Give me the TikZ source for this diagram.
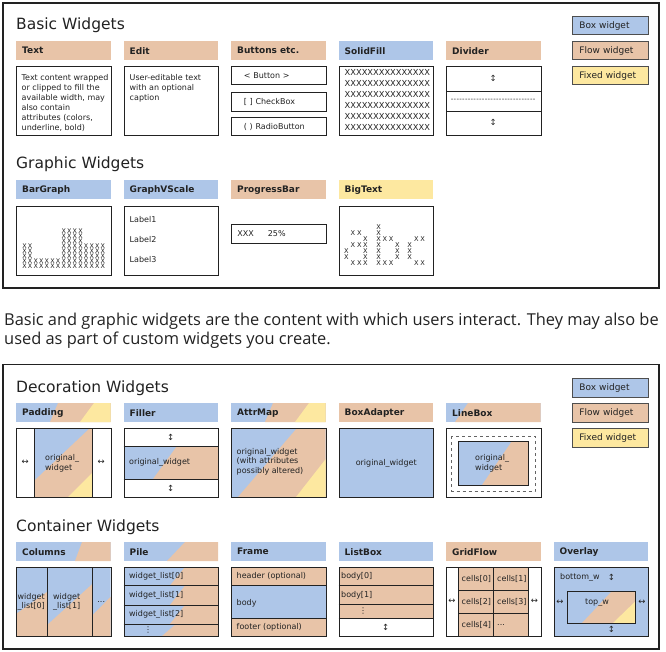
\documentclass[tikz,border=0pt]{standalone}
\usepackage{fontspec}
\setmainfont{DejaVu Sans}
\newfontfamily\prosefont{Open Sans}
\usetikzlibrary{positioning}

\definecolor{boxblue}{HTML}{AEC6E8}
\definecolor{flowtan}{HTML}{E8C4A8}
\definecolor{fixyellow}{HTML}{FDE8A0}
\definecolor{ink}{HTML}{222222}

% background split in diagonal bands: x0,y0,x1,y1, then x of each band edge at bottom and top
\newcommand\tribg[8]{%
  \begin{scope}
    \clip (#1,#2) rectangle (#3,#4);
    \fill[boxblue] (#1,#2) rectangle (#3,#4);
    \fill[flowtan] (#5,#4) -- (#6,#2) -- (#3+300,#2) -- (#3+300,#4) -- cycle;
    \fill[fixyellow] (#7,#4) -- (#8,#2) -- (#3+300,#2) -- (#3+300,#4) -- cycle;
  \end{scope}}
\newcommand\duobg[6]{%
  \begin{scope}
    \clip (#1,#2) rectangle (#3,#4);
    \fill[boxblue] (#1,#2) rectangle (#3,#4);
    \fill[flowtan] (#5,#4) -- (#6,#2) -- (#3+300,#2) -- (#3+300,#4) -- cycle;
  \end{scope}}

\begin{document}
\begin{tikzpicture}[x=1pt,y=-1pt,
    every node/.style={text=ink},
    panel/.style={draw=ink,line width=1.2pt},
    title/.style={anchor=base west,inner sep=0pt,font=\fontsize{15.5}{18}\selectfont},
    hdr/.style={anchor=north west,minimum width=94.5pt,minimum height=19pt,inner xsep=6pt,
      inner ysep=0pt,text width=82.5pt,align=left,font=\bfseries\fontsize{9}{10}\selectfont},
    wbox/.style={draw=ink,line width=0.9pt,anchor=north west,minimum width=94.5pt,
      minimum height=69pt,inner sep=0pt},
    btn/.style={draw=ink,line width=0.9pt,anchor=north west,minimum width=94.5pt,
      minimum height=18.5pt,inner xsep=12.5pt,inner ysep=0pt,text width=69.5pt,align=left,
      font=\fontsize{8}{10}\selectfont},
    leg/.style={draw=ink!80,line width=0.9pt,anchor=north west,minimum width=76pt,
      minimum height=18.5pt,inner xsep=7pt,inner ysep=0pt,text width=62pt,align=left,
      font=\fontsize{9}{10}\selectfont},
    small/.style={inner sep=0pt,font=\fontsize{8}{9.6}\selectfont,align=left},
    xchar/.style={inner sep=0pt,font=\fontsize{6.6}{7}\selectfont},
    xcol/.style={inner sep=0pt,anchor=south,align=center,
      font={\fontsize{6.4}{4.9}\selectfont\lineskiplimit=-10pt}},
    arr/.style={inner sep=0pt,font=\fontsize{8.5}{9}\selectfont},
    prose/.style={anchor=base west,inner sep=0pt,font=\prosefont\fontsize{16.4}{19}\selectfont},
    sep/.style={draw=ink,line width=0.9pt}]
\useasboundingbox (0,0) rectangle (666,652);

%%% basic and graphic widgets
\draw[panel] (3,3) rectangle (659,288);
\node[title] (tBasic) at (16,30) {Basic Widgets};
\node[title] (tGraphic) at (16,169) {Graphic Widgets};

\node[leg,fill=boxblue] (lBox) at (572,16) {Box widget};
\node[leg,fill=flowtan] (lFlow) at (572,41) {Flow widget};
\node[leg,fill=fixyellow] (lFixed) at (572,66) {Fixed widget};

\node[hdr,fill=flowtan] (hText) at (16,41) {Text};
\node[hdr,fill=flowtan] (hEdit) at (123.5,41) {Edit};
\node[hdr,fill=flowtan] (hButtons) at (231,41) {Buttons etc.};
\node[hdr,fill=boxblue] (hSolid) at (338.5,41) {SolidFill};
\node[hdr,fill=flowtan] (hDivider) at (446,41) {Divider};

\node[wbox] (bText) at (16,66) {};
\node[small,anchor=north west,font=\fontsize{8}{10}\selectfont] (textBody) at (21.5,74)
  {Text content wrapped\\or clipped to fill the\\available width, may\\also contain\\attributes (colors,\\underline, bold)};
\node[wbox] (bEdit) at (123.5,66) {};
\node[small,anchor=north west,font=\fontsize{8}{10}\selectfont] (editBody) at (129.5,74)
  {User-editable text\\with an optional\\caption};

\node[btn] (bButton) at (231,66) {< Button >};
\node[btn,minimum height=19pt] (bCheck) at (231,92) {[ ] CheckBox};
\node[btn] (bRadio) at (231,117) {( ) RadioButton};

\node[wbox] (bSolid) at (338.5,66) {};
\foreach \k in {0,...,5}
  \node[inner sep=0pt,anchor=west,font=\fontsize{8.3}{9}\selectfont] (fill\k) at (344.5,72+11*\k)
    {XXXXXXXXXXXXXXX};

\node[wbox] (bDivider) at (446,66) {};
\draw[sep] (446,91) -- (540.5,91) (446,111) -- (540.5,111);
\node[arr] (divUp) at (493.25,78.5) {↕};
\node[arr] (divDown) at (493.25,122.5) {↕};
\node[inner sep=0pt,font=\fontsize{7}{8}\selectfont] (divLine) at (493.25,100.5)
  {\foreach \k in {1,...,30}{-\kern0.3pt}};

\node[hdr,fill=boxblue] (hBar) at (16,180) {BarGraph};
\node[hdr,fill=boxblue] (hScale) at (123.5,180) {GraphVScale};
\node[hdr,fill=flowtan] (hProgress) at (231,180) {ProgressBar};
\node[hdr,fill=fixyellow] (hBig) at (338.5,180) {BigText};

\node[wbox] (bBar) at (16,206) {};
\foreach \col [count=\c from 0] in {X\\X\\X\\X\\X, X\\X\\X\\X\\X, X\\X, X\\X, X\\X, X\\X, X\\X,
    X\\X\\X\\X\\X\\X\\X\\X, X\\X\\X\\X\\X\\X\\X\\X, X\\X\\X\\X\\X\\X\\X\\X, X\\X\\X\\X\\X\\X\\X\\X,
    X\\X\\X\\X\\X, X\\X\\X\\X\\X, X\\X\\X\\X\\X, X\\X\\X\\X\\X}
  \node[xcol] (barcol\c) at (24.5+5.6*\c,268.3) {\col};

\node[wbox] (bScale) at (123.5,206) {};
\node[small,anchor=west] (lab1) at (129.5,219.5) {Label1};
\node[small,anchor=west] (lab2) at (129.5,240) {Label2};
\node[small,anchor=west] (lab3) at (129.5,260) {Label3};

\node[btn,minimum height=19pt,inner xsep=6pt,text width=82.5pt] (bProgress) at (231,224)
  {XXX\hspace{14pt}25\%};

\node[wbox] (bBig) at (338.5,206) {};
\foreach \px/\py [count=\n] in {
    353/233,359.5/233, 353/245,359.5/245, 346.3/251,346.3/257, 353/263,359.5/263,
    365.5/239,365.5/245,365.5/251,365.5/257,365.5/263,
    378.7/227,378.7/233,378.7/239,378.7/245,378.7/251,378.7/257,378.7/263,
    384.8/239,391.2/239, 397.3/245,397.3/251,397.3/257, 384.8/263,391.2/263,
    409.7/245,409.7/251,409.7/257, 416.3/239,422.6/239, 416.3/263,422.6/263}
  \node[xchar] (big\n) at (\px,\py) {X};

%%% decoration and container widgets
\draw[panel] (3,364.5) rectangle (659,649);
\node[title] (tDeco) at (16,392) {Decoration Widgets};
\node[title] (tCont) at (16,531) {Container Widgets};

\node[leg,fill=boxblue] (lBox2) at (572,378) {Box widget};
\node[leg,fill=flowtan] (lFlow2) at (572,403) {Flow widget};
\node[leg,fill=fixyellow] (lFixed2) at (572,428) {Fixed widget};

% headers
\tribg{16}{403}{110.5}{422}{50}{58}{80}{94}
\node[hdr] (hPadding) at (16,403) {Padding};
\node[hdr,fill=boxblue] (hFiller) at (123.5,403) {Filler};
\tribg{231}{403}{325.5}{422}{265}{273}{295}{309}
\node[hdr] (hAttr) at (231,403) {AttrMap};
\node[hdr,fill=flowtan] (hAdapter) at (338.5,403) {BoxAdapter};
\duobg{446}{403}{540.5}{422}{455}{468}
\node[hdr] (hLine) at (446,403) {LineBox};

% Padding
\tribg{34.5}{428}{92}{497}{17}{90}{68}{137}
\node[wbox] (bPadding) at (16,428) {};
\draw[sep] (34.5,428) -- (34.5,497) (92,428) -- (92,497);
\node[arr] (padL) at (25.25,462.5) {↔};
\node[arr] (padR) at (101.25,462.5) {↔};
\node[small,anchor=west] (padW) at (45,463) {original\_\\widget};

% Filler
\duobg{123.5}{446}{218}{479}{153}{177}
\node[wbox] (bFiller) at (123.5,428) {};
\draw[sep] (123.5,446) -- (218,446) (123.5,479) -- (218,479);
\node[arr] (filUp) at (170.75,437) {↕};
\node[arr] (filDown) at (170.75,488) {↕};
\node[small,anchor=west] (filW) at (129,462.5) {original\_widget};

% AttrMap
\tribg{231}{428}{325.5}{497}{238}{297}{296}{350}
\node[wbox] (bAttr) at (231,428) {};
\node[small,anchor=west,font=\fontsize{8}{9.4}\selectfont] (attrW) at (236.5,461.5)
  {original\_widget\\(with attributes\\possibly altered)};

% BoxAdapter
\node[wbox,fill=boxblue] (bAdapter) at (338.5,428) {};
\node[small] (adW) at (bAdapter) {original\_widget};

% LineBox
\node[wbox] (bLine) at (446,428) {};
\draw[ink!70,line width=0.9pt,dashed] (451.5,436) rectangle (535,491);
\duobg{458}{441}{528}{485}{482}{512}
\draw[sep] (458,441) rectangle (528,485);
\node[small,anchor=west] (lineW) at (475,463) {original\_\\widget};

% container headers
\duobg{16}{542}{110.5}{561}{75}{82}
\node[hdr] (hColumns) at (16,542) {Columns};
\duobg{123.5}{542}{218}{561}{167}{185}
\node[hdr] (hPile) at (123.5,542) {Pile};
\node[hdr,fill=boxblue] (hFrame) at (231,542) {Frame};
\node[hdr,fill=boxblue] (hList) at (338.5,542) {ListBox};
\node[hdr,fill=flowtan] (hGrid) at (446,542) {GridFlow};
\node[hdr,fill=boxblue] (hOverlay) at (553.5,542) {Overlay};

% Columns
\duobg{16}{567}{47}{636}{-15}{82}
\duobg{47}{567}{92}{636}{35}{111}
\duobg{92}{567}{110.5}{636}{72}{140}
\node[wbox] (bColumns) at (16,567) {};
\draw[sep] (47,567) -- (47,636) (92,567) -- (92,636);
\node[small,anchor=west] (col0) at (17.5,602) {widget\\\_list[0]};
\node[small,anchor=west] (col1) at (53,602) {widget\\\_list[1]};
\node[small] (colMore) at (101.25,602) {...};

% Pile
\duobg{123.5}{567}{218}{585.5}{170}{185}
\duobg{123.5}{585.5}{218}{605}{170}{185}
\duobg{123.5}{605}{218}{624}{170}{185}
\duobg{123.5}{624}{218}{636}{162}{176}
\node[wbox] (bPile) at (123.5,567) {};
\draw[sep] (123.5,585.5) -- (218,585.5) (123.5,605) -- (218,605) (123.5,624) -- (218,624);
\node[small,anchor=west] (pile0) at (129,576) {widget\_list[0]};
\node[small,anchor=west] (pile1) at (129,595) {widget\_list[1]};
\node[small,anchor=west] (pile2) at (129,614.5) {widget\_list[2]};
\node[small] (pileMore) at (148,630) {⋮};

% Frame
\fill[flowtan] (231,567) rectangle (325.5,585);
\fill[boxblue] (231,585) rectangle (325.5,618);
\fill[flowtan] (231,618) rectangle (325.5,636);
\node[wbox] (bFrame) at (231,567) {};
\draw[sep] (231,585) -- (325.5,585) (231,618) -- (325.5,618);
\node[small,anchor=west] (frHead) at (236.5,576) {header (optional)};
\node[small,anchor=west] (frBody) at (236.5,603) {body};
\node[small,anchor=west] (frFoot) at (236.5,627) {footer (optional)};

% ListBox
\fill[flowtan] (338.5,567) rectangle (433,618);
\node[wbox] (bList) at (338.5,567) {};
\draw[sep] (338.5,585.5) -- (433,585.5) (338.5,604) -- (433,604) (338.5,618) -- (433,618);
\node[small,anchor=west] (list0) at (341,576) {body[0]};
\node[small,anchor=west] (list1) at (341,595) {body[1]};
\node[small] (listMore) at (363,611) {⋮};
\node[arr] (listDown) at (385.75,627) {↕};

% GridFlow
\fill[flowtan] (458,567) rectangle (528,636);
\node[wbox] (bGrid) at (446,567) {};
\draw[sep] (458,567) -- (458,636) (528,567) -- (528,636) (493,567) -- (493,636)
  (458,590) -- (528,590) (458,613) -- (528,613);
\node[small,anchor=west] (cell0) at (461.5,578.5) {cells[0]};
\node[small,anchor=west] (cell1) at (497,578.5) {cells[1]};
\node[small,anchor=west] (cell2) at (461.5,601.5) {cells[2]};
\node[small,anchor=west] (cell3) at (497,601.5) {cells[3]};
\node[small,anchor=west] (cell4) at (461.5,624.5) {cells[4]};
\node[small,anchor=west] (cellMore) at (497,624.5) {...};
\node[arr] (gridL) at (452,601.5) {↔};
\node[arr] (gridR) at (534.5,601.5) {↔};

% Overlay
\node[wbox,fill=boxblue] (bOverlay) at (553.5,567) {};
\tribg{567}{591}{635}{623}{582}{612}{613}{646}
\draw[sep] (567,591) rectangle (635,623);
\node[small,anchor=west] (botW) at (560,577) {bottom\_w};
\node[arr] (ovUp) at (611.5,577) {↕};
\node[small] (topW) at (597,603) {top\_w};
\node[arr] (ovL) at (560,602) {↔};
\node[arr] (ovR) at (642,602) {↔};
\node[arr] (ovDown) at (611.5,629) {↕};

%%% text between the panels
\node[prose] (blurb1) at (4,325)
  {Basic and graphic widgets are the content with which users interact. They may also be};
\node[prose] (blurb2) at (4,344) {used as part of custom widgets you create.};
\end{tikzpicture}
\end{document}
